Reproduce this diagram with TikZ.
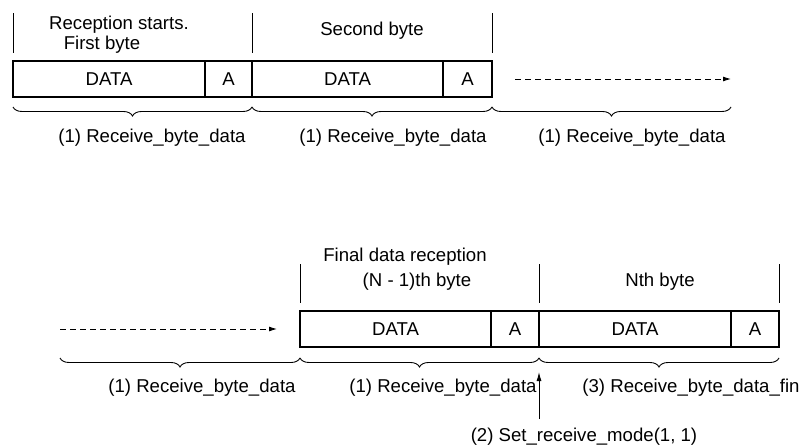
\documentclass[tikz,border=0pt]{standalone}
\usepackage{fontspec}
\setmainfont{Liberation Sans}
\usetikzlibrary{decorations.pathreplacing,arrows.meta}

\begin{document}
\begin{tikzpicture}[x=1pt,y=-1pt,
  every node/.style={font=\fontsize{18.6}{22}\selectfont, inner sep=0pt, outer sep=0pt},
  field/.style={draw, line width=2.2pt, minimum height=36pt, anchor=north west},
  tick/.style={line width=0.9pt},
  span/.style={decorate, decoration={brace, mirror, amplitude=9pt}, line width=0.9pt},
  flow/.style={dashed, line width=0.9pt, dash pattern=on 6pt off 4pt, -{Latex[length=8pt,width=5pt]}},
  marker/.style={line width=1pt, -{Latex[length=9pt,width=5pt]}}]
\useasboundingbox (0,0) rectangle (806,447);

% ---- first row: first and second byte ----
\node[field, minimum width=192pt] (d1) at (13,61)  {DATA};
\node[field, minimum width=47pt]  (a1) at (205,61) {A};
\node[field, minimum width=191pt] (d2) at (252,61) {DATA};
\node[field, minimum width=49pt]  (a2) at (443,61) {A};

\coordinate (t1a) at (13,13);  \coordinate (t1b) at (13,53);
\coordinate (t2a) at (252,13); \coordinate (t2b) at (252,53);
\coordinate (t3a) at (492,13); \coordinate (t3b) at (492,53);
\draw[tick] (t1a) -- (t1b);
\draw[tick] (t2a) -- (t2b);
\draw[tick] (t3a) -- (t3b);

\node (h1) at (119,25) {Reception starts.};
\node (h2) at (102,45) {First byte};
\node (h3) at (372,31) {Second byte};

\coordinate (f1a) at (515,79); \coordinate (f1b) at (731,79);
\draw[flow] (f1a) -- (f1b);

\coordinate (b1) at (13,107);  \coordinate (b2) at (252,107);
\coordinate (b3) at (492,107); \coordinate (b4) at (731,107);
\draw[span] (b1) -- (b2);
\draw[span] (b2) -- (b3);
\draw[span] (b3) -- (b4);

\node (l1) at (152,138) {(1) Receive\_byte\_data};
\node (l2) at (393,138) {(1) Receive\_byte\_data};
\node (l3) at (632,138) {(1) Receive\_byte\_data};

% ---- second row: (N-1)th and Nth byte ----
\node[field, minimum width=191pt] (d3) at (300,311) {DATA};
\node[field, minimum width=48pt]  (a3) at (491,311) {A};
\node[field, minimum width=192pt] (d4) at (539,311) {DATA};
\node[field, minimum width=48pt]  (a4) at (731,311) {A};

\coordinate (t4a) at (300,264); \coordinate (t4b) at (300,303);
\coordinate (t5a) at (539,264); \coordinate (t5b) at (539,303);
\coordinate (t6a) at (779,264); \coordinate (t6b) at (779,303);
\draw[tick] (t4a) -- (t4b);
\draw[tick] (t5a) -- (t5b);
\draw[tick] (t6a) -- (t6b);

\node (h4) at (405,257) {Final data reception};
\node (h5) at (417,282) {(N - 1)th byte};
\node (h6) at (660,282) {Nth byte};

\coordinate (f2a) at (60,329); \coordinate (f2b) at (277,329);
\draw[flow] (f2a) -- (f2b);

\coordinate (b5) at (60,358);  \coordinate (b6) at (300,358);
\coordinate (b7) at (539,358); \coordinate (b8) at (779,358);
\draw[span] (b5) -- (b6);
\draw[span] (b6) -- (b7);
\draw[span] (b7) -- (b8);

\node (l4) at (202,388) {(1) Receive\_byte\_data};
\node (l5) at (443,388) {(1) Receive\_byte\_data};
\node (l6) at (691,388) {(3) Receive\_byte\_data\_fin};

\node (m) at (584,437) {(2) Set\_receive\_mode(1, 1)};
\coordinate (mt) at (539,419);
\coordinate (mh) at (539,372);
\draw[marker] (mt) -- (mh);
\end{tikzpicture}
\end{document}
